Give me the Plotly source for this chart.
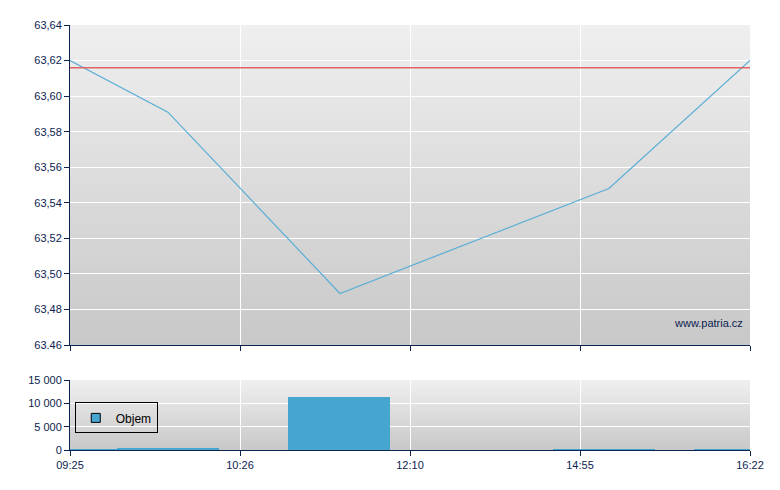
import plotly.graph_objects as go
from plotly.subplots import make_subplots

# ---- data ----
tick_labels = ["09:25", "10:26", "12:10", "14:55", "16:22"]
tick_pos = [0, 1, 2, 3, 4]

price_x = [0, 0.576, 1.588, 3.17, 4.0]
price_y = [63.620, 63.591, 63.489, 63.548, 63.620]

ref_price = 63.616

vol_x = [-0.02, 0.576, 1.585, 3.14, 3.97]
vol_y = [200, 450, 11350, 150, 150]
vol_w = [0.6, 0.6, 0.6, 0.6, 0.6]

price_ticks = [63.46, 63.48, 63.50, 63.52, 63.54, 63.56, 63.58, 63.60, 63.62, 63.64]
price_tick_text = ["63.46", "63,48", "63,50", "63,52", "63,54", "63,56", "63,58", "63,60", "63,62", "63,64"]
vol_ticks = [0, 5000, 10000, 15000]
vol_tick_text = ["0", "5 000", "10 000", "15 000"]

NAVY = "#0c2350"
BAR = "#46a6cf"

fig = make_subplots(rows=2, cols=1, shared_xaxes=False, vertical_spacing=0)

fig.add_trace(go.Scatter(x=price_x, y=price_y, mode="lines",
                         line=dict(color="#5aaed6", width=1.2),
                         showlegend=False, hoverinfo="skip"), row=1, col=1)
fig.add_trace(go.Scatter(x=[tick_pos[0], tick_pos[-1]], y=[ref_price, ref_price], mode="lines",
                         line=dict(color="#e06464", width=1.5),
                         showlegend=False, hoverinfo="skip"), row=1, col=1)
fig.add_trace(go.Bar(x=vol_x, y=vol_y, width=vol_w, name="Objem", showlegend=False,
                     marker=dict(color=BAR, line=dict(width=0))), row=2, col=1)
# legend entry for volume
fig.add_trace(go.Scatter(x=[None], y=[None], mode="markers", name="Objem",
                         marker=dict(symbol="square", size=9, color=BAR,
                                     line=dict(color="black", width=1))), row=2, col=1)

# gradient backgrounds (stacked, no gaps)
shapes = []
N = 70
def lerp(a, b, t):
    return int(round(a + (b - a) * t))
for xr, yr in [("x domain", "y domain"), ("x2 domain", "y2 domain")]:
    for i in range(N):
        t = i / (N - 1)
        c = lerp(0xef, 0xc8, t)
        col = f"rgb({c},{c},{c})"
        shapes.append(dict(type="rect", xref=xr, yref=yr, x0=0, x1=1,
                           y0=0, y1=1 - i / N,
                           fillcolor=col, line=dict(width=0), layer="below"))

fig.update_layout(
    width=780, height=490,
    margin=dict(l=62, r=38, t=17, b=48),
    paper_bgcolor="white", plot_bgcolor="rgba(0,0,0,0)",
    font=dict(family="Liberation Sans, Arial, sans-serif", size=11, color=NAVY),
    shapes=shapes,
    bargap=0,
    showlegend=True,
    legend=dict(x=0.007, y=0.112, xanchor="left", yanchor="top",
                bgcolor="rgba(0,0,0,0)", bordercolor="black", borderwidth=1,
                font=dict(size=12, color="black"), itemwidth=30),
    annotations=[dict(text="www.patria.cz", xref="x domain", yref="y domain",
                      x=0.992, y=0.045, xanchor="right", yanchor="bottom",
                      showarrow=False, font=dict(size=11, color=NAVY))],
)

axis_common = dict(range=[0, 4], tickvals=tick_pos, showline=True, linecolor=NAVY, linewidth=1,
                   ticks="outside", ticklen=5, tickcolor=NAVY, gridcolor="white", gridwidth=1,
                   showgrid=True, zeroline=False, fixedrange=True)
fig.update_xaxes(**axis_common, showticklabels=False, domain=[0, 1], row=1, col=1)
fig.update_xaxes(**axis_common, ticktext=tick_labels, showticklabels=True, row=2, col=1)

fig.update_yaxes(range=[63.46, 63.64], tickvals=price_ticks, ticktext=price_tick_text,
                 showline=True, linecolor=NAVY, linewidth=1, ticks="outside", ticklen=5,
                 tickcolor=NAVY, gridcolor="white", gridwidth=1, zeroline=False,
                 domain=[105 / 425, 1.0], row=1, col=1)
fig.update_yaxes(range=[0, 15000], tickvals=vol_ticks, ticktext=vol_tick_text,
                 showline=True, linecolor=NAVY, linewidth=1, ticks="outside", ticklen=5,
                 tickcolor=NAVY, gridcolor="white", gridwidth=1, zeroline=False,
                 domain=[0, 70 / 425], row=2, col=1)

fig.write_html("out.html")
